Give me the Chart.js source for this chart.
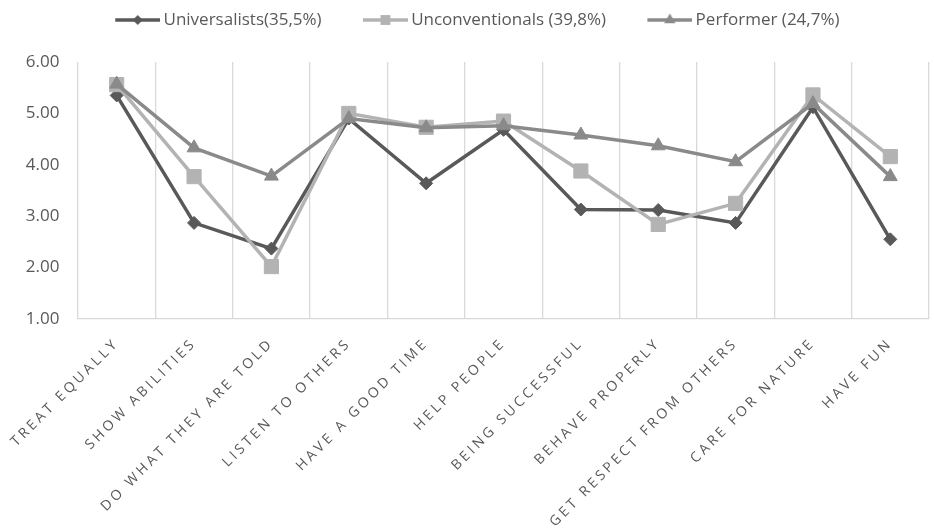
<!DOCTYPE html>
<html>
<head>
<meta charset="utf-8">
<script src="https://cdn.jsdelivr.net/npm/chart.js@4.4.1/dist/chart.umd.min.js"></script>
<style>
  html, body { margin: 0; padding: 0; background: #ffffff; overflow: hidden; }
  #wrap { width: 940px; height: 530px; }
</style>
</head>
<body>
<div id="wrap"><canvas id="chart" width="940" height="530"></canvas></div>
<script>
// Value categories on the x axis
const categories = [
  'TREAT EQUALLY', 'SHOW ABILITIES', 'DO WHAT THEY ARE TOLD', 'LISTEN TO OTHERS',
  'HAVE A GOOD TIME', 'HELP PEOPLE', 'BEING SUCCESSFUL', 'BEHAVE PROPERLY',
  'GET RESPECT FROM OTHERS', 'CARE FOR NATURE', 'HAVE FUN'
];

// Cluster names (share of respondents)
const seriesNames = ['Universalists(35,5%)', 'Unconventionals (39,8%)', 'Performer (24,7%)'];

// Mean scores per cluster
const universalists   = [5.35, 2.87, 2.37, 4.90, 3.64, 4.68, 3.13, 3.12, 2.87, 5.12, 2.55];
const unconventionals = [5.56, 3.77, 2.02, 5.00, 4.73, 4.85, 3.88, 2.84, 3.25, 5.36, 4.16];
const performer       = [5.57, 4.33, 3.78, 4.90, 4.72, 4.76, 4.58, 4.37, 4.06, 5.19, 3.77];

// Value axis range and step
const yMin = 1;
const yMax = 6;
const yStep = 1;

const TEXT_COLOR = '#595959';
const GRID_COLOR = '#d9d9d9';
const FONT = "'Open Sans', 'DejaVu Sans', sans-serif";

const LEGEND_PAD = 11.5;
const LEGEND_BOX = 69.5;
const X_LABEL_SPACING = '3.2px';

const styles = [
  { color: '#595959', point: 'rectRot', radius: 6.5, legendRadius: 5 },
  { color: '#b3b3b3', point: 'rect', radius: 10, legendRadius: 7 },
  { color: '#8a8a8a', point: 'triangle', radius: 8, legendRadius: 6.5 }
];
const seriesData = [universalists, unconventionals, performer];

// Legend icon: short line with the series marker in its middle
function legendIcon(color, point, r) {
  const c = document.createElement('canvas');
  c.width = Math.round(LEGEND_BOX + 10);
  c.height = 22;
  const g = c.getContext('2d');
  const x0 = c.width - 45, x1 = c.width, cy = 11, cx = (x0 + x1) / 2;
  g.strokeStyle = color;
  g.lineWidth = 3.5;
  g.beginPath(); g.moveTo(x0, cy); g.lineTo(x1, cy); g.stroke();
  g.fillStyle = color;
  g.beginPath();
  if (point === 'rectRot') {
    g.moveTo(cx - r, cy); g.lineTo(cx, cy - r); g.lineTo(cx + r, cy); g.lineTo(cx, cy + r);
  } else if (point === 'rect') {
    const h = r * Math.SQRT1_2;
    g.rect(cx - h, cy - h, 2 * h, 2 * h);
  } else {
    const s = Math.sin(Math.PI / 3) * r;
    g.moveTo(cx, cy - r); g.lineTo(cx + s, cy + r / 2); g.lineTo(cx - s, cy + r / 2);
  }
  g.closePath();
  g.fill();
  return c;
}

const icons = styles.map(s => legendIcon(s.color, s.point, s.legendRadius));

const datasets = seriesNames.map((name, i) => ({
  label: name,
  data: seriesData[i],
  borderColor: styles[i].color,
  backgroundColor: styles[i].color,
  pointBackgroundColor: styles[i].color,
  pointBorderColor: styles[i].color,
  pointStyle: styles[i].point,
  pointRadius: styles[i].radius,
  pointHoverRadius: styles[i].radius,
  pointBorderWidth: 1,
  borderWidth: 3.5,
  tension: 0,
  fill: false,
  order: 2 - i
}));

// Fixed legend band height, unclipped value labels, letter-spaced category labels
const layoutTweaks = {
  id: 'layoutTweaks',
  beforeLayout(chart) {
    const lg = chart.legend;
    if (lg && !lg._fixedHeight) {
      const fit = lg.fit;
      lg.fit = function () { fit.call(this); this.height = 62; };
      lg._fixedHeight = true;
    }
  },
  afterLayout(chart) {
    const ys = chart.scales.y;
    if (ys) ys._computeLabelArea = () => undefined;
    const sc = chart.scales.x;
    if (sc && !sc._spaced) {
      const draw = sc.drawLabels;
      sc.drawLabels = function (area) {
        const ctx = this.ctx;
        ctx.letterSpacing = X_LABEL_SPACING;
        draw.call(this, area);
        ctx.letterSpacing = '0px';
      };
      sc._spaced = true;
    }
  }
};

new Chart(document.getElementById('chart'), {
  type: 'line',
  data: { labels: categories, datasets },
  plugins: [layoutTweaks],
  options: {
    responsive: false,
    animation: false,
    devicePixelRatio: 1,
    layout: { padding: { top: 0, left: 74, right: 3, bottom: 0 } },
    plugins: {
      tooltip: { enabled: false },
      legend: {
        position: 'top',
        align: 'start',
        labels: {
          usePointStyle: true,
          pointStyleWidth: LEGEND_BOX,
          padding: LEGEND_PAD,
          color: TEXT_COLOR,
          font: { family: FONT, size: 17 },
          generateLabels: () => seriesNames.map((name, i) => ({
            text: name,
            fillStyle: styles[i].color,
            strokeStyle: styles[i].color,
            fontColor: TEXT_COLOR,
            pointStyle: icons[i],
            lineWidth: 0,
            hidden: false,
            datasetIndex: i
          }))
        }
      }
    },
    scales: {
      x: {
        offset: true,
        grid: { display: true, offset: true, color: GRID_COLOR, lineWidth: 1.3, drawTicks: false },
        border: { display: true, color: GRID_COLOR, width: 1.3 },
        ticks: {
          autoSkip: false,
          minRotation: 45,
          maxRotation: 45,
          padding: 16,
          color: TEXT_COLOR,
          font: { family: FONT, size: 14 }
        },
        afterFit: s => { s.height = 211; s.paddingLeft = 0; s.paddingRight = 0; }
      },
      y: {
        min: yMin,
        max: yMax,
        grid: { display: false, drawTicks: false },
        border: { display: false },
        ticks: {
          stepSize: yStep,
          autoSkip: false,
          padding: 18.5,
          color: TEXT_COLOR,
          font: { family: FONT, size: 17 },
          callback: v => Number(v).toFixed(2)
        },
        afterFit: s => { s.width = 4; }
      }
    }
  }
});
</script>
</body>
</html>
